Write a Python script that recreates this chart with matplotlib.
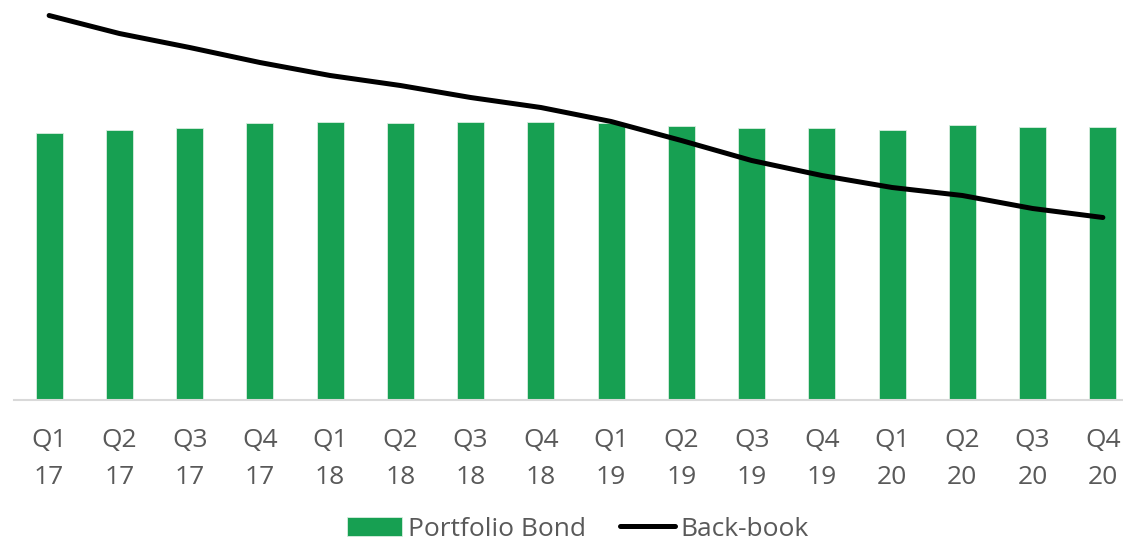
import matplotlib.pyplot as plt
import numpy as np

quarters = ["Q1\n17", "Q2\n17", "Q3\n17", "Q4\n17",
            "Q1\n18", "Q2\n18", "Q3\n18", "Q4\n18",
            "Q1\n19", "Q2\n19", "Q3\n19", "Q4\n19",
            "Q1\n20", "Q2\n20", "Q3\n20", "Q4\n20"]

portfolio_bond = [2.675, 2.705, 2.725, 2.775, 2.785, 2.775, 2.785, 2.785,
                  2.775, 2.745, 2.725, 2.72, 2.705, 2.755, 2.735, 2.735]

back_book = [3.845, 3.665, 3.525, 3.375, 3.245, 3.145, 3.025, 2.925,
             2.785, 2.595, 2.395, 2.245, 2.125, 2.045, 1.915, 1.825]


def main():
    plt.rcParams["font.family"] = ["Open Sans", "DejaVu Sans"]

    fig = plt.figure(figsize=(11.23, 5.44), dpi=100)
    ax = fig.add_axes([14 / 1123, 144 / 544, 1124 / 1123, 400 / 544])

    x = np.arange(len(quarters))
    bars = ax.bar(x, portfolio_bond, width=0.385, color="#17a052",
                  edgecolor="#d8eedf", linewidth=0.6, label="Portfolio Bond", zorder=2)
    line, = ax.plot(x, back_book, color="black", linewidth=3.6,
                    solid_capstyle="round", solid_joinstyle="round",
                    label="Back-book", zorder=3)

    ax.set_xlim(-0.5, 15.5)
    ax.set_ylim(0, 4.0)
    ax.set_yticks([])
    ax.set_xticks(x)
    ax.set_xticklabels(quarters, fontsize=19, color="#595959", linespacing=1.62)
    ax.tick_params(axis="x", length=0, pad=20)

    for side in ["top", "right", "left"]:
        ax.spines[side].set_visible(False)
    ax.spines["bottom"].set_color("#d9d9d9")
    ax.spines["bottom"].set_linewidth(1.5)

    fig.legend([bars, line], ["Portfolio Bond", "Back-book"],
               loc="center", bbox_to_anchor=(578 / 1123, 1 - 529 / 544),
               ncol=2, frameon=False, fontsize=19, labelcolor="#595959",
               handlelength=2.1, handleheight=0.7, handletextpad=0.2,
               columnspacing=1.3, borderpad=0)

    fig.savefig("out.png", dpi=100)


if __name__ == "__main__":
    main()
